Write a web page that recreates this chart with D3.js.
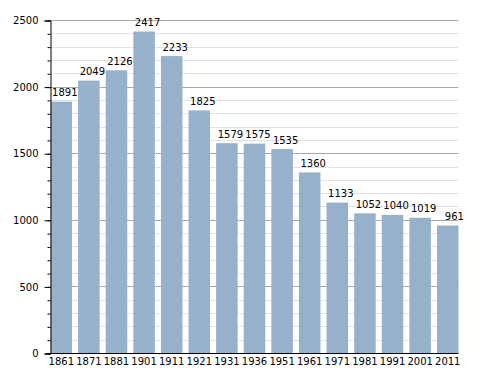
<!DOCTYPE html>
<html>
<head>
<meta charset="utf-8">
<script src="https://cdn.jsdelivr.net/npm/d3@7"></script>
<style>
  body { margin: 0; background: #fff; }
  text { font-family: "DejaVu Sans", sans-serif; font-size: 10px; fill: #000; }
</style>
</head>
<body>
<div id="chart"></div>
<script>
var years = ["1861", "1871", "1881", "1901", "1911", "1921", "1931", "1936",
             "1951", "1961", "1971", "1981", "1991", "2001", "2011"];
var population = [1891, 2049, 2126, 2417, 2233, 1825, 1579, 1575,
                  1535, 1360, 1133, 1052, 1040, 1019, 961];
var yTicks = [0, 500, 1000, 1500, 2000, 2500];
var yMinorTicks = d3.range(0, 2501, 100);

var width = 488, height = 373;
var plotLeft = 50.5, plotRight = 458.5, plotTop = 20.5, plotBottom = 353.5;

var svg = d3.select("#chart").append("svg")
  .attr("width", width)
  .attr("height", height);

/* Scale */
var x = d3.scaleBand()
  .domain(years)
  .range([plotLeft, plotRight])
  .paddingInner(0.22)
  .paddingOuter(0);

var y = d3.scaleLinear()
  .domain([0, 2500])
  .range([plotBottom, plotTop]);

/* Grid */
svg.append("g")
  .selectAll("line")
  .data(yMinorTicks.filter(d => d % 500 != 0)).enter()
  .append("line")
  .attr("x1", plotLeft).attr("x2", plotRight)
  .attr("y1", d => Math.floor(y(d)) + 0.5).attr("y2", d => Math.floor(y(d)) + 0.5)
  .style("stroke", "#e2e2e2");

svg.append("g")
  .selectAll("line")
  .data(yTicks.filter(d => d > 0)).enter()
  .append("line")
  .attr("x1", plotLeft).attr("x2", plotRight)
  .attr("y1", d => Math.floor(y(d)) + 0.5).attr("y2", d => Math.floor(y(d)) + 0.5)
  .style("stroke", "#a8a8a8");

/* Bars */
svg.append("g")
  .selectAll("rect")
  .data(population).enter()
  .append("rect")
  .attr("x", (d, i) => x(years[i]))
  .attr("y", d => y(d))
  .attr("width", x.bandwidth())
  .attr("height", d => plotBottom - y(d))
  .style("fill", "#98b1cb");

/* Value labels */
svg.append("g")
  .selectAll("text")
  .data(population).enter()
  .append("text")
  .attr("x", (d, i) => x(years[i]) + 27)
  .attr("y", d => y(d) - 5.5)
  .attr("text-anchor", "end")
  .text(d => d);

/* Axes */
var yAxis = d3.axisLeft(y).tickValues(yTicks).tickSize(6).tickPadding(6).tickFormat(d3.format("d"));
var yMinor = d3.axisLeft(y).tickValues(yMinorTicks).tickSize(3).tickFormat("");

svg.append("g")
  .attr("transform", `translate(${plotLeft}, 0)`)
  .call(yMinor)
  .call(g => g.select(".domain").remove());

svg.append("g")
  .attr("class", "y axis")
  .attr("transform", `translate(${plotLeft}, 0)`)
  .call(yAxis)
  .call(g => g.selectAll("text").style("font-size", "10px").style("font-family", "DejaVu Sans"));

var xAxis = d3.axisBottom(x).tickSize(0).tickPadding(4);
svg.append("g")
  .attr("class", "x axis")
  .attr("transform", `translate(0, ${plotBottom})`)
  .call(xAxis)
  .call(g => g.select(".domain").attr("d", `M${plotLeft - 4},0H${plotRight}`))
  .call(g => g.selectAll("text").style("font-size", "10px").style("font-family", "DejaVu Sans"));

svg.selectAll(".domain, .tick line").style("stroke", "#000");
</script>
</body>
</html>
